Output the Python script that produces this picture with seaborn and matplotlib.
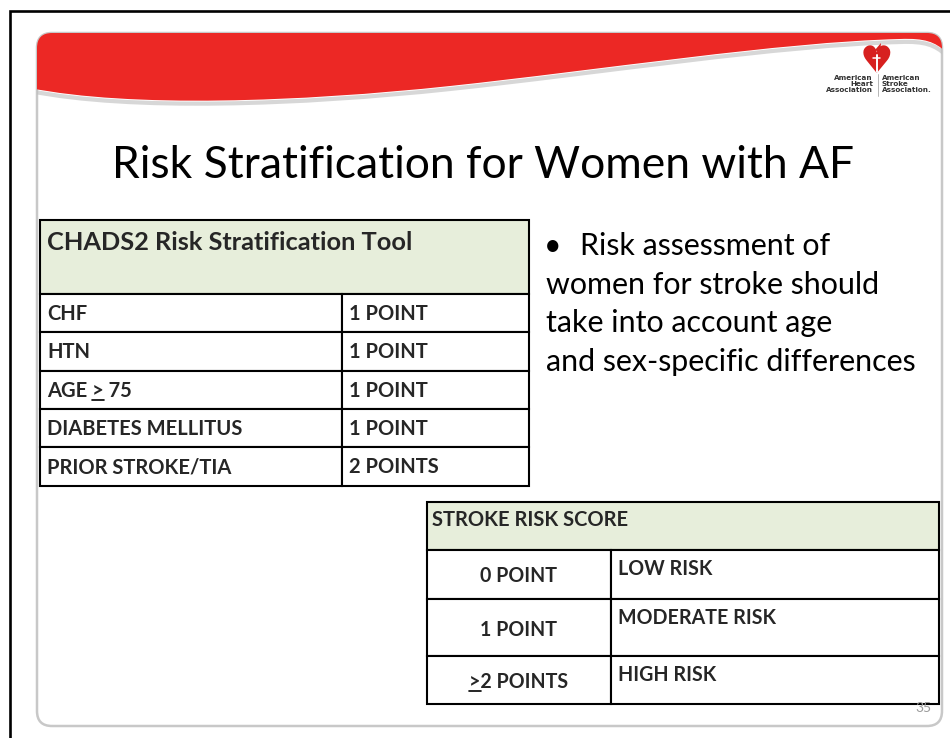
import matplotlib
matplotlib.use("Agg")
import matplotlib.pyplot as plt
import seaborn as sns
from matplotlib.patches import Rectangle, FancyBboxPatch, PathPatch, Polygon
from matplotlib.path import Path

# slide content
title = "Risk Stratification for Women with AF"
chads_header = "CHADS2 Risk Stratification Tool"
risk_factors = ["CHF", "HTN", "AGE > 75", "DIABETES MELLITUS", "PRIOR STROKE/TIA"]
factor_points = ["1 POINT", "1 POINT", "1 POINT", "1 POINT", "2 POINTS"]
score_header = "STROKE RISK SCORE"
score_points = ["0 POINT", "1 POINT", ">2 POINTS"]
risk_levels = ["LOW RISK", "MODERATE RISK", "HIGH RISK"]
bullet_lines = ["Risk assessment of", "women for stroke should",
                "take into account age", "and sex-specific differences"]
slide_number = "35"

sns.set_theme(style="white")
plt.rcParams['font.family'] = ['Lato', 'DejaVu Sans']

fig = plt.figure(figsize=(9.5, 7.38), dpi=100)
ax = fig.add_axes([0, 0, 1, 1])
ax.set_xlim(0, 950)
ax.set_ylim(738, 0)
ax.axis('off')
fig.canvas.draw()
renderer = fig.canvas.get_renderer()


def text_width(t):
    return t.get_window_extent(renderer).width


def fit_text(x, y, s, width, size=20, **kw):
    """draw text and rescale it so it spans the given pixel width"""
    t = ax.text(x, y, s, fontsize=size, **kw)
    t.set_fontsize(size * width / text_width(t))
    return t


def measure(s, size, **kw):
    t = ax.text(0, 0, s, fontsize=size, **kw)
    w = text_width(t)
    t.remove()
    return w


# outer frame
ax.plot([10, 10, 950], [738, 11, 11], color='black', lw=1.9,
        solid_joinstyle='miter')

# slide body with rounded corners
slide = FancyBboxPatch((37, 33), 905, 693,
                       boxstyle="round,pad=0,rounding_size=15",
                       facecolor='white', edgecolor='#c8c8c8', lw=1.8,
                       zorder=1)
ax.add_patch(slide)

# red wave banner
verts = [(30, 20), (30, 88),
         (130, 108), (300, 102), (450, 86),
         (600, 70), (780, 42), (900, 39),
         (925, 38), (935, 42), (946, 52),
         (946, 20), (30, 20)]
codes = [Path.MOVETO, Path.LINETO,
         Path.CURVE4, Path.CURVE4, Path.CURVE4,
         Path.CURVE4, Path.CURVE4, Path.CURVE4,
         Path.CURVE4, Path.CURVE4, Path.CURVE4,
         Path.LINETO, Path.CLOSEPOLY]
shadow_verts = [(x, y + 3) for x, y in verts[1:11]]
shadow = PathPatch(Path(shadow_verts, [Path.MOVETO] + codes[2:11]),
                   facecolor='none', edgecolor='#bdbdbd', lw=3, alpha=0.6,
                   zorder=2)
ax.add_patch(shadow)
shadow.set_clip_path(slide)
red = PathPatch(Path(verts, codes), facecolor='#ec2825', edgecolor='none',
                zorder=3)
ax.add_patch(red)
red.set_clip_path(slide)

# logo
ax.text(876, 63, '\u2665', fontsize=27, color='#d7201f', ha='center',
        va='center', family='DejaVu Sans', zorder=4)
ax.add_patch(Polygon([(875, 50), (881, 43), (880, 53)], closed=True,
                     facecolor='#d7201f', edgecolor='none', zorder=4))
ax.plot([876.5, 876.5], [55, 72], color='white', lw=1.4, zorder=5)
ax.plot([873, 880], [58, 58], color='white', lw=1.1, zorder=5)
ax.plot([877.5, 877.5], [74, 96], color='#aaaaaa', lw=0.6, zorder=4)
ax.text(873, 84, "American\nHeart\nAssociation", fontsize=5.2, ha='right',
        va='center', linespacing=1.05, color='#333333',
        family='Liberation Sans Narrow', fontweight='bold')
ax.text(882, 84, "American\nStroke\nAssociation.", fontsize=5.2, ha='left',
        va='center', linespacing=1.05, color='#333333',
        family='Liberation Sans Narrow', fontweight='bold')

# title
fit_text(112, 178, title, 743, size=28, ha='left', va='baseline',
         color='black', zorder=5)

# bullet text
body_size = 20 * 372 / measure(bullet_lines[3], 20)
ax.text(544, 255, '\u2022', fontsize=body_size, ha='left', va='baseline',
        color='black')
for i, line in enumerate(bullet_lines):
    x0 = 580 if i == 0 else 546
    ax.text(x0, 255 + 38.5 * i, line, fontsize=body_size, ha='left',
            va='baseline', color='black')

# CHADS2 table
header_fill = '#e7eedb'
edge = dict(edgecolor='black', lw=1.5)
t1_cols = [40, 342, 529]
t1_rows = [220, 294, 332, 371, 409, 447, 486]
ax.add_patch(Rectangle((t1_cols[0], t1_rows[0]), t1_cols[2] - t1_cols[0],
                       t1_rows[1] - t1_rows[0], facecolor=header_fill,
                       zorder=6, **edge))
fit_text(47, 250, chads_header, 366, size=16, fontweight='bold',
         va='baseline', zorder=7)
row_size = 14 * 196 / measure(risk_factors[3], 14, fontweight='bold')
for i, (fac, pts) in enumerate(zip(risk_factors, factor_points)):
    top, bot = t1_rows[i + 1], t1_rows[i + 2]
    for c in range(2):
        ax.add_patch(Rectangle((t1_cols[c], top), t1_cols[c + 1] - t1_cols[c],
                               bot - top, facecolor='white', zorder=6, **edge))
    ax.text(47, top + 26, fac, fontsize=row_size, fontweight='bold',
            va='baseline', zorder=7)
    ax.text(349, top + 26, pts, fontsize=row_size, fontweight='bold',
            va='baseline', zorder=7)
    if '>' in fac:
        pre = fac[:fac.index('>') + 1]
        w_pre = measure(pre, row_size, fontweight='bold')
        w_gt = measure('>', row_size, fontweight='bold')
        ax.plot([47 + w_pre - w_gt, 47 + w_pre], [top + 29, top + 29],
                color='black', lw=1.2, zorder=7)

# stroke risk score table
t2_cols = [427, 611, 939]
t2_rows = [502, 550, 599, 656, 704]
ax.add_patch(Rectangle((t2_cols[0], t2_rows[0]), t2_cols[2] - t2_cols[0],
                       t2_rows[1] - t2_rows[0], facecolor=header_fill,
                       zorder=6, **edge))
fit_text(432, 526, score_header, 197, size=14, fontweight='bold',
         va='baseline', zorder=7)
score_size = 14 * 158 / measure(risk_levels[1], 14, fontweight='bold')
for i, (sc, lvl) in enumerate(zip(score_points, risk_levels)):
    top, bot = t2_rows[i + 1], t2_rows[i + 2]
    for c in range(2):
        ax.add_patch(Rectangle((t2_cols[c], top), t2_cols[c + 1] - t2_cols[c],
                               bot - top, facecolor='white', zorder=6, **edge))
    mid = (top + bot) / 2
    st = ax.text((t2_cols[0] + t2_cols[1]) / 2, mid + 8, sc,
                 fontsize=score_size, fontweight='bold', ha='center',
                 va='baseline', zorder=7)
    ax.text(618, top + 25, lvl, fontsize=score_size, fontweight='bold',
            va='baseline', zorder=7)
    if sc.startswith('>'):
        bb = st.get_window_extent(renderer)
        w_gt = measure('>', score_size, fontweight='bold')
        ax.plot([bb.x0, bb.x0 + w_gt], [mid + 11, mid + 11], color='black',
                lw=1.2, zorder=7)

# slide number
ax.text(923, 708, slide_number, fontsize=10, color='#9a9a9a', ha='center',
        va='center', zorder=7)

plt.savefig('out.png', dpi=100, facecolor='white')
